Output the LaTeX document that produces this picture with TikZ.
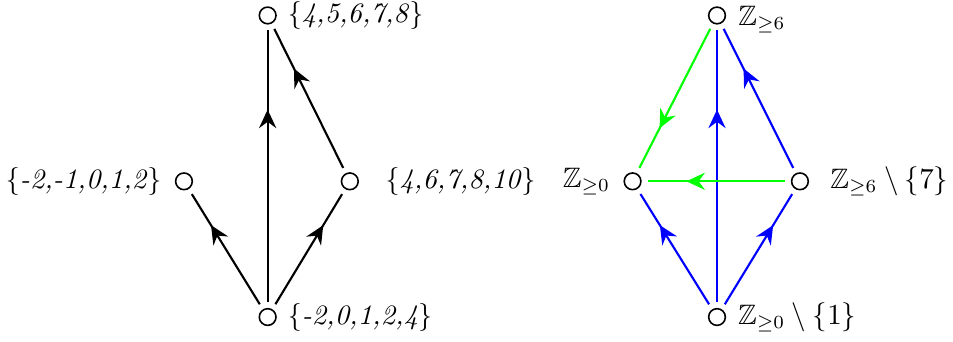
\documentclass[tikz,border=0pt]{standalone}
\usepackage{amssymb}
\usepackage{amsmath}
\usetikzlibrary{arrows.meta,decorations.markings}

\tikzset{
  every label/.append style={font=\fontsize{10.6pt}{13pt}\selectfont},
  vert/.style={circle, draw=black, fill=white, semithick, minimum size=6.3pt, inner sep=0pt},
  upedge/.style={thick, shorten <=2.2pt, shorten >=2.2pt,
    postaction={decorate, decoration={markings,
      mark=at position 0.7 with {\arrow{Stealth[length=7pt,width=6.5pt,inset=2.4pt]}}}}},
}

\begin{document}
\begin{tikzpicture}
\useasboundingbox (0,0) rectangle (12.64,4.535);

\node[vert, label={[label distance=0.6pt]right:\{\textit{4,5,6,7,8}\}}] (lt) at (3.55,4.33) {};
\node[vert, label={[label distance=1.5pt]left:\{\textit{-2,-1,0,1,2}\}}] (ll) at (2.44,2.13) {};
\node[vert, label={[label distance=6.5pt]right:\{\textit{4,6,7,8,10}\}}] (lr) at (4.64,2.13) {};
\node[vert, label={[label distance=0.6pt]right:\{\textit{-2,0,1,2,4}\}}] (lb) at (3.55,0.33) {};

\draw[upedge] (lb) -- (ll);
\draw[upedge] (lb) -- (lt);
\draw[upedge] (lb) -- (lr);
\draw[upedge] (lr) -- (lt);

\node[vert, label={[label distance=3.4pt, inner sep=1pt, yshift=-1.5pt]right:$\mathbb{Z}_{\geq 6}$}] (rt) at (9.51,4.33) {};
\node[vert, label={[label distance=1.5pt]left:$\mathbb{Z}_{\geq 0}$}] (rl) at (8.39,2.13) {};
\node[vert, label={[label distance=4.5pt]right:$\mathbb{Z}_{\geq 6} \setminus \{7\}$}] (rr) at (10.61,2.13) {};
\node[vert, label={[label distance=1pt]right:$\mathbb{Z}_{\geq 0} \setminus \{1\}$}] (rb) at (9.51,0.33) {};

\draw[upedge, blue] (rb) -- (rl);
\draw[upedge, blue] (rb) -- (rt);
\draw[upedge, blue] (rb) -- (rr);
\draw[upedge, blue] (rr) -- (rt);
\draw[upedge, green] (rt) -- (rl);
\draw[upedge, green] (rr) -- (rl);
\end{tikzpicture}
\end{document}
